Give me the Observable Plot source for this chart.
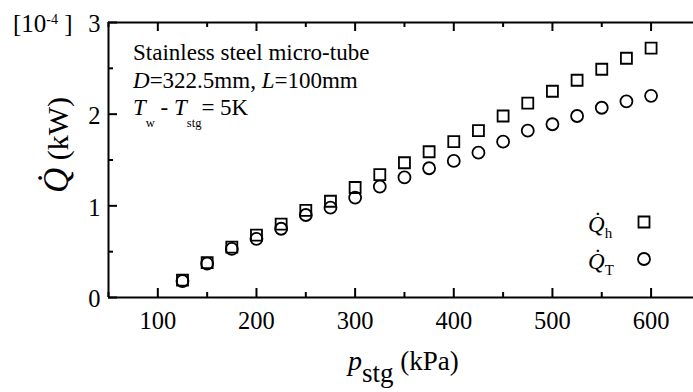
<!DOCTYPE html>
<html><head><meta charset="utf-8">
<script src="https://cdn.jsdelivr.net/npm/d3@7"></script>
<script src="https://cdn.jsdelivr.net/npm/@observablehq/plot@0.6"></script>
<style>html,body{margin:0;padding:0;background:#fff;overflow:hidden} svg{display:block}</style>
</head><body><div id="chart"></div>
<script>
const pressure = [125,150,175,200,225,250,275,300,325,350,375,400,425,450,475,500,525,550,575,600];
const qH = [0.19,0.38,0.55,0.68,0.80,0.95,1.05,1.20,1.34,1.47,1.59,1.70,1.82,1.98,2.12,2.25,2.37,2.49,2.61,2.72];
const qT = [0.18,0.37,0.53,0.64,0.75,0.90,0.98,1.09,1.21,1.31,1.41,1.49,1.58,1.70,1.82,1.89,1.98,2.07,2.14,2.20];
const xTicksMajor = [100,200,300,400,500,600];
const xTicksMinor = [50,150,250,350,450,550];
const yTicksMajor = [0,1,2,3];
const yTicksMinor = [0.5,1.5,2.5];
const rows = pressure.map((p,i)=>({p, qh:qH[i], qt:qT[i]}));

const W=693, H=392, mL=108, mT=22, mB=95, mR=0;
const innerH = H-mT-mB, innerW = W-mL-mR;
const font = "'Liberation Serif','Times New Roman',Times,serif";

const plot = Plot.plot({
  width: W, height: H, marginLeft: mL, marginTop: mT, marginBottom: mB, marginRight: mR,
  style: {fontFamily: font, fontSize: "24px", background: "#fff", color: "#000", overflow: "hidden"},
  x: {domain: [50, 643]},
  y: {domain: [0, 3]},
  marks: [
    Plot.axisX(xTicksMajor, {anchor: "bottom", tickSize: 0, tickPadding: 14, fontSize: 24.5, label: null, tickFormat: d => String(d)}),
    Plot.axisY(yTicksMajor, {anchor: "left", tickSize: 0, tickPadding: 8, fontSize: 24.5, label: null, dy: 2, tickFormat: d => String(d)}),
    Plot.tickX(xTicksMajor, {x: d => d, insetTop: innerH - 9, strokeWidth: 2}),
    Plot.tickX(xTicksMinor, {x: d => d, insetTop: innerH - 5, strokeWidth: 2}),
    Plot.tickX(xTicksMajor, {x: d => d, insetBottom: innerH - 9, strokeWidth: 2}),
    Plot.tickX(xTicksMinor, {x: d => d, insetBottom: innerH - 5, strokeWidth: 2}),
    Plot.tickY(yTicksMajor, {y: d => d, insetRight: innerW - 9, strokeWidth: 2}),
    Plot.tickY(yTicksMinor, {y: d => d, insetRight: innerW - 5, strokeWidth: 2}),
    Plot.ruleX([50], {strokeWidth: 2}),
    Plot.ruleY([0, 3], {strokeWidth: 2}),
    Plot.dot(rows, {x: "p", y: "qh", symbol: "square", r: 6.2, stroke: "#000", strokeWidth: 1.8, fill: "none"}),
    Plot.dot(rows, {x: "p", y: "qt", symbol: "circle", r: 6, stroke: "#000", strokeWidth: 1.8, fill: "none"})
  ]
});
document.getElementById("chart").appendChild(plot);

const svg = d3.select(plot);
function rich(x, y, parts, opts = {}) {
  const t = svg.append("text").attr("x", x).attr("y", y)
    .attr("font-family", font).attr("font-size", opts.size || 22).attr("fill", "#000")
    .attr("text-anchor", opts.anchor || "start");
  if (opts.transform) t.attr("transform", opts.transform);
  let cur = 0;
  for (const p of parts) {
    const s = t.append("tspan").text(p.t).attr("fill", "#000");
    if (p.i) s.attr("font-style", "italic");
    if (p.size) s.attr("font-size", p.size);
    const off = p.off || 0;
    if (off !== cur) { s.attr("dy", off - cur); cur = off; }
  }
  return t;
}
// exponent label
rich(13, 32, [{t: "[10"}, {t: "-4", size: 14, off: -8}, {t: " ]", off: 0}], {size: 25});
// annotations
rich(133, 60, [{t: "Stainless steel micro-tube"}], {size: 23});
rich(133, 88, [{t: "D", i: 1}, {t: "=322.5mm, "}, {t: "L", i: 1}, {t: "=100mm"}], {size: 23});
rich(133, 115, [{t: "T", i: 1}, {t: "w", size: 12.5, off: 12}, {t: " - ", off: 0}, {t: "T", i: 1}, {t: "stg", size: 12.5, off: 12}, {t: "= 5K", off: 0}], {size: 23});
// legend
rich(588, 232, [{t: "Q\u0307", i: 1}, {t: "h", size: 15, off: 6}], {size: 23});
rich(588, 269, [{t: "Q\u0307", i: 1}, {t: "T", size: 15, off: 6}], {size: 23});
svg.append("path").attr("d", d3.symbol(d3.symbolSquare, Math.PI * 6.2 * 6.2)()).attr("transform", "translate(644,222)")
  .attr("fill", "none").attr("stroke", "#000").attr("stroke-width", 1.8);
svg.append("circle").attr("cx", 644).attr("cy", 259).attr("r", 6)
  .attr("fill", "none").attr("stroke", "#000").attr("stroke-width", 1.8);
// axis labels
rich(348, 370, [{t: "p", i: 1, size: 28}, {t: "stg", off: 12}, {t: " (kPa)", off: 0}], {size: 27});
rich(68, 145, [{t: "Q\u0307", i: 1, size: 35}, {t: " (kW)"}], {size: 30, anchor: "middle", transform: "rotate(-90,68,145)"});
</script></body></html>
